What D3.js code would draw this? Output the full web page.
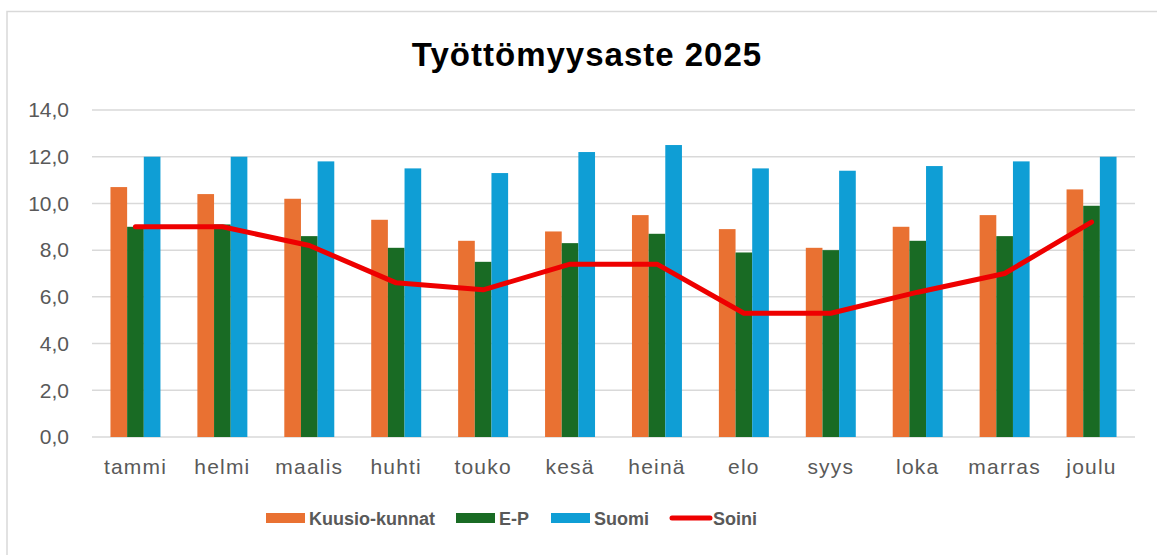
<!DOCTYPE html>
<html>
<head>
<meta charset="utf-8">
<script src="https://cdn.jsdelivr.net/npm/d3@7"></script>
<style>
  body { margin: 0; background: #fff; }
  text { font-family: "Liberation Sans", Arial, sans-serif; }
</style>
</head>
<body>
<div id="chart"></div>
<script>
const months = ['tammi', 'helmi', 'maalis', 'huhti', 'touko', 'kesä', 'heinä', 'elo', 'syys', 'loka', 'marras', 'joulu'];
const kuusio = [10.7, 10.4, 10.2, 9.3, 8.4, 8.8, 9.5, 8.9, 8.1, 9.0, 9.5, 10.6];
const ep = [9.0, 9.1, 8.6, 8.1, 7.5, 8.3, 8.7, 7.9, 8.0, 8.4, 8.6, 9.9];
const suomi = [12.0, 12.0, 11.8, 11.5, 11.3, 12.2, 12.5, 11.5, 11.4, 11.6, 11.8, 12.0];
const soini = [9.0, 9.0, 8.2, 6.6, 6.3, 7.4, 7.4, 5.3, 5.3, 6.2, 7.0, 9.2];
const yTicks = [0, 2, 4, 6, 8, 10, 12, 14];

const barSeries = [
    { name: 'Kuusio-kunnat', values: kuusio, color: '#E97132' },
    { name: 'E-P', values: ep, color: '#196B24' },
    { name: 'Suomi', values: suomi, color: '#0F9ED5' }
];
const lineSeries = { name: 'Soini', values: soini, color: '#EE0000' };

const width = 1157, height = 555;
const margin = { top: 110, right: 22, bottom: 118, left: 92 };

const svg = d3.select('#chart').append('svg')
    .attr('width', width)
    .attr('height', height);

// chart frame (only top and left edges are in view)
svg.append('path')
    .attr('d', `M7,${height + 5}V11.5H${width + 5}`)
    .attr('fill', 'none')
    .attr('stroke', '#d9d9d9')
    .attr('stroke-width', 1.5);

svg.append('text')
    .attr('x', 587).attr('y', 66)
    .attr('text-anchor', 'middle')
    .attr('font-size', 33)
    .attr('font-weight', 'bold')
    .attr('letter-spacing', 1)
    .attr('fill', '#000')
    .text('Työttömyysaste 2025');

const x = d3.scaleBand()
    .domain(months)
    .range([margin.left, width - margin.right])
    .paddingInner(0.425)
    .paddingOuter(0.2125);

const xInner = d3.scaleBand()
    .domain(barSeries.map(d => d.name))
    .range([0, x.bandwidth()]);

const y = d3.scaleLinear()
    .domain([0, 14])
    .range([height - margin.bottom, margin.top]);

// grid lines
svg.append('g')
    .selectAll('line')
    .data(yTicks)
    .enter()
    .append('line')
    .attr('x1', margin.left)
    .attr('x2', width - margin.right)
    .attr('y1', d => y(d))
    .attr('y2', d => y(d))
    .attr('stroke', '#d9d9d9')
    .attr('stroke-width', 1.5);

// y axis labels
const yAxis = d3.axisLeft(y)
    .tickValues(yTicks)
    .tickSize(0)
    .tickPadding(23)
    .tickFormat(d => d3.format('.1f')(d).replace('.', ','));

svg.append('g')
    .attr('transform', `translate(${margin.left},0)`)
    .call(yAxis)
    .call(g => g.select('.domain').remove())
    .selectAll('text')
    .attr('font-size', 21)
    .attr('fill', '#595959')
    .attr('font-family', '"Liberation Sans", Arial, sans-serif');

// x axis labels
const xAxis = d3.axisBottom(x).tickSize(0).tickPadding(22);
svg.append('g')
    .attr('transform', `translate(0,${y(0)})`)
    .call(xAxis)
    .call(g => g.select('.domain').remove())
    .selectAll('text')
    .attr('font-size', 21)
    .attr('letter-spacing', 1.2)
    .attr('fill', '#595959')
    .attr('font-family', '"Liberation Sans", Arial, sans-serif');

// bars
const groups = svg.append('g')
    .selectAll('g')
    .data(barSeries)
    .enter()
    .append('g')
    .attr('fill', d => d.color);

groups.selectAll('rect')
    .data(s => s.values.map((v, i) => ({ name: s.name, month: months[i], value: v })))
    .enter()
    .append('rect')
    .attr('x', d => x(d.month) + xInner(d.name))
    .attr('width', xInner.bandwidth())
    .attr('y', d => y(d.value))
    .attr('height', d => y(0) - y(d.value));

// line
const line = d3.line()
    .x((d, i) => x(months[i]) + x.bandwidth() / 2)
    .y(d => y(d));

svg.append('path')
    .attr('d', line(lineSeries.values))
    .attr('fill', 'none')
    .attr('stroke', lineSeries.color)
    .attr('stroke-width', 5)
    .attr('stroke-linejoin', 'round')
    .attr('stroke-linecap', 'round');

// legend
const legendY = 518;
const legendItems = [
    { name: 'Kuusio-kunnat', color: '#E97132', type: 'bar', x: 266 },
    { name: 'E-P', color: '#196B24', type: 'bar', x: 456 },
    { name: 'Suomi', color: '#0F9ED5', type: 'bar', x: 551 },
    { name: 'Soini', color: '#EE0000', type: 'line', x: 670 }
];

const legend = svg.append('g');
legendItems.forEach(item => {
    if (item.type === 'bar') {
        legend.append('rect')
            .attr('x', item.x).attr('y', legendY - 5)
            .attr('width', 39).attr('height', 10)
            .attr('fill', item.color);
    } else {
        legend.append('line')
            .attr('x1', item.x + 2).attr('x2', item.x + 40)
            .attr('y1', legendY).attr('y2', legendY)
            .attr('stroke', item.color)
            .attr('stroke-width', 5)
            .attr('stroke-linecap', 'round');
    }
    legend.append('text')
        .attr('x', item.x + 43)
        .attr('y', legendY + 6.5)
        .attr('font-size', 18)
        .attr('font-weight', 'bold')
        .attr('fill', '#595959')
        .text(item.name);
});
</script>
</body>
</html>
